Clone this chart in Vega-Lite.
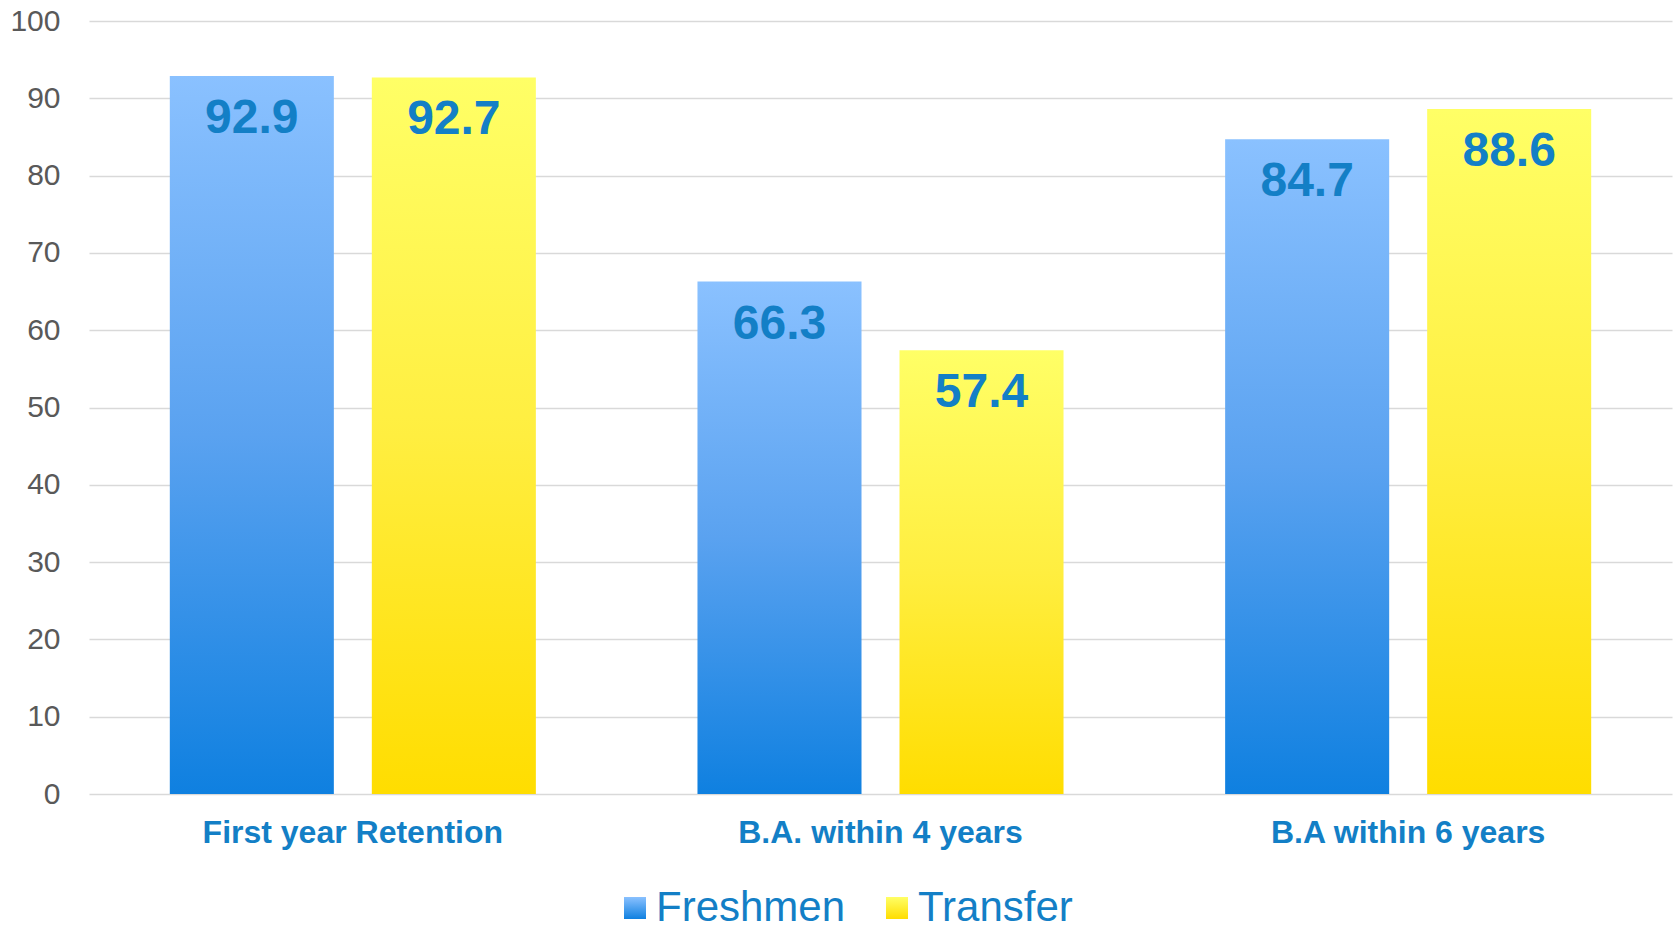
{
  "$schema": "https://vega.github.io/schema/vega-lite/v6.json",
  "width": 1583,
  "height": 773,
  "autosize": "none",
  "padding": {"left": 89, "top": 21, "right": 6, "bottom": 133},
  "background": "white",
  "data": {
    "values": [
      {"category": "First year Retention", "series": "Freshmen", "value": 92.9},
      {"category": "First year Retention", "series": "Transfer", "value": 92.7},
      {"category": "B.A. within 4 years", "series": "Freshmen", "value": 66.3},
      {"category": "B.A. within 4 years", "series": "Transfer", "value": 57.4},
      {"category": "B.A within 6 years", "series": "Freshmen", "value": 84.7},
      {"category": "B.A within 6 years", "series": "Transfer", "value": 88.6}
    ]
  },
  "config": {
    "view": {"stroke": null},
    "font": "Liberation Sans"
  },
  "encoding": {
    "x": {
      "field": "category",
      "type": "nominal",
      "sort": null,
      "title": null,
      "scale": {"paddingInner": 0, "paddingOuter": 0},
      "axis": {
        "labelAngle": 0,
        "labelFont": "Liberation Sans",
        "labelFontSize": 32,
        "labelFontWeight": "bold",
        "labelColor": "#137fc6",
        "labelPadding": 23,
        "labelLimit": 800,
        "ticks": false,
        "domain": false
      }
    },
    "xOffset": {
      "field": "series",
      "type": "nominal",
      "sort": ["Freshmen", "Transfer"],
      "scale": {"paddingInner": 0.188, "paddingOuter": 0.4}
    },
    "y": {
      "field": "value",
      "type": "quantitative",
      "title": null,
      "scale": {"domain": [0, 100], "nice": false},
      "axis": {
        "values": [0, 10, 20, 30, 40, 50, 60, 70, 80, 90, 100],
        "labelFont": "Liberation Sans",
        "labelFontSize": 30,
        "labelColor": "#595959",
        "labelPadding": 29,
        "ticks": false,
        "domain": false,
        "gridColor": "#D9D9D9",
        "gridWidth": 1.5
      }
    }
  },
  "layer": [
    {
      "mark": {"type": "bar"},
      "encoding": {
        "fill": {
          "condition": {
            "test": "datum.series === 'Freshmen'",
            "value": {"gradient": "linear", "x1": 0, "y1": 0, "x2": 0, "y2": 1, "stops": [{"offset": 0, "color": "#8AC1FF"}, {"offset": 0.5, "color": "#5AA2F0"}, {"offset": 1, "color": "#0F80E0"}]}
          },
          "value": {"gradient": "linear", "x1": 0, "y1": 0, "x2": 0, "y2": 1, "stops": [{"offset": 0, "color": "#FFFF66"}, {"offset": 0.5, "color": "#FFEE40"}, {"offset": 1, "color": "#FFDD00"}]}
        },
        "opacity": {
          "field": "series",
          "type": "ordinal",
          "sort": ["Freshmen", "Transfer"],
          "title": null,
          "scale": {"domain": ["Freshmen", "Transfer"], "range": [1, 1]},
          "legend": {
            "orient": "none",
            "legendX": 525,
            "legendY": 866,
            "direction": "horizontal",
            "symbolType": "square",
            "symbolSize": 484,
            "symbolStrokeWidth": 0,
            "symbolOpacity": 1,
            "labelFont": "Liberation Sans",
            "labelFontSize": 42,
            "labelColor": "#137fc6",
            "labelOffset": 0,
            "columnPadding": 30,
            "labelLimit": 400,
            "encoding": {
              "symbols": {
                "fill": {
                  "condition": {
                    "test": "datum.value === 'Freshmen'",
                    "value": {"gradient": "linear", "x1": 0, "y1": 0, "x2": 0, "y2": 1, "stops": [{"offset": 0, "color": "#8AC1FF"}, {"offset": 1, "color": "#0F80E0"}]}
                  },
                  "value": {"gradient": "linear", "x1": 0, "y1": 0, "x2": 0, "y2": 1, "stops": [{"offset": 0, "color": "#FFFF66"}, {"offset": 1, "color": "#FFDD00"}]}
                }
              }
            }
          }
        }
      }
    },
    {
      "mark": {
        "type": "text",
        "baseline": "middle",
        "dy": 43,
        "font": "Liberation Sans",
        "fontSize": 48,
        "fontWeight": "bold",
        "color": "#137fc6"
      },
      "encoding": {
        "text": {"field": "value", "type": "quantitative", "format": ".1f"}
      }
    }
  ]
}
